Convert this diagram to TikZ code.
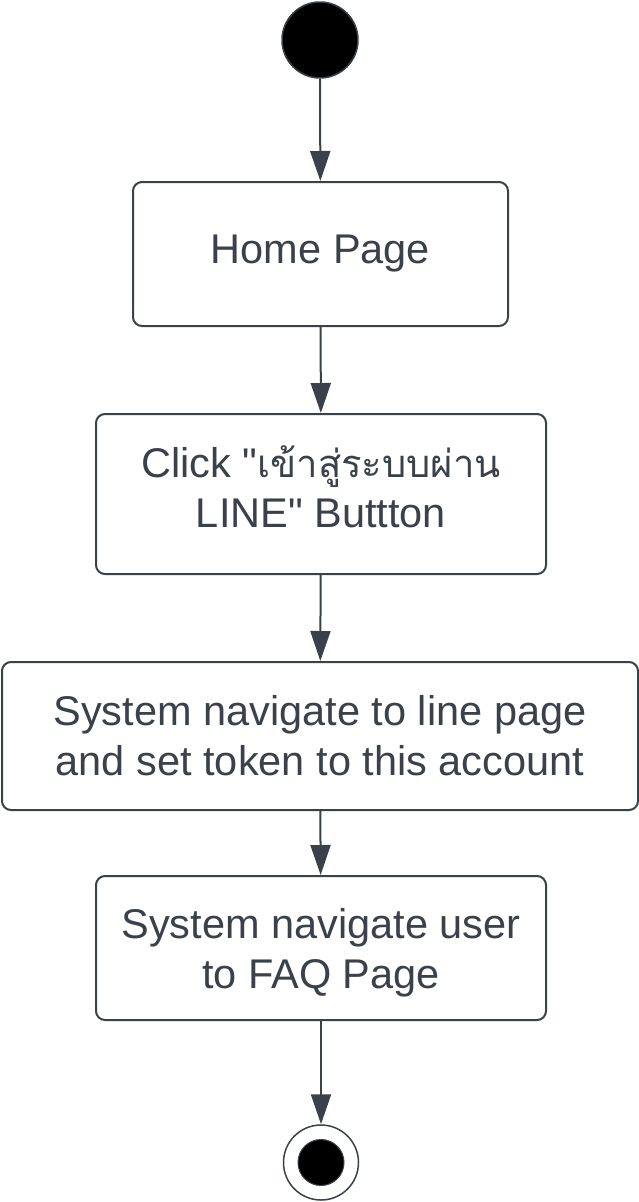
\documentclass[tikz,border=0pt]{standalone}
\usepackage{fontspec}
\setmainfont{Liberation Sans}[Ligatures=TeXOff]
\newfontfamily\thaifont[Script=Thai,Scale=0.92]{Loma}
\usetikzlibrary{arrows.meta}
\definecolor{ln}{HTML}{3A414A}
\begin{document}
\begin{tikzpicture}[x=1pt,y=-1pt,
  box/.style={draw=ln, line width=2pt, rounded corners=9pt, text=ln, align=center,
    font=\fontsize{41.5}{50}\selectfont, inner sep=0pt},
  label/.style={text=ln, align=center, font=\fontsize{41.5}{50}\selectfont, inner sep=0pt},
  flow/.style={draw=ln, line width=2pt, -{Triangle[length=30pt,width=20pt]}},
  startnode/.style={circle, draw=ln, line width=1.5pt, fill=black, minimum size=76pt, inner sep=0pt},
  endouter/.style={circle, draw=ln, line width=1.5pt, fill=white, minimum size=75pt, inner sep=0pt},
  endinner/.style={circle, draw=ln, line width=1pt, fill=black, minimum size=46pt, inner sep=0pt}]
\useasboundingbox (0,0) rectangle (639,1202);
\node[startnode] (start) at (320,40) {};
\node[box, minimum width=375pt, minimum height=144pt] (b1) at (320.5,254) {Home Page};
\node[box, minimum width=450pt, minimum height=160pt] (b2) at (321,494) {};
\node[label] (t2) at (321,487) {Click "{\thaifont เข้าสู่ระบบผ่าน}\\LINE" Buttton};
\node[box, minimum width=636pt, minimum height=148pt] (b3) at (320,736) {System navigate to line page\\and set token to this account};
\node[box, minimum width=450pt, minimum height=144pt] (b4) at (321,948) {};
\node[label] (t4) at (321,953) {System navigate user\\to FAQ Page};
\node[endouter] (end) at (321,1162.5) {};
\node[endinner] (endin) at (end) {};
\draw[flow] (start) -- (b1);
\draw[flow] (b1) -- (b2);
\draw[flow] (b2) -- (b3);
\draw[flow] (b3) -- (b4);
\draw[flow] (b4) -- (end);
\end{tikzpicture}
\end{document}
